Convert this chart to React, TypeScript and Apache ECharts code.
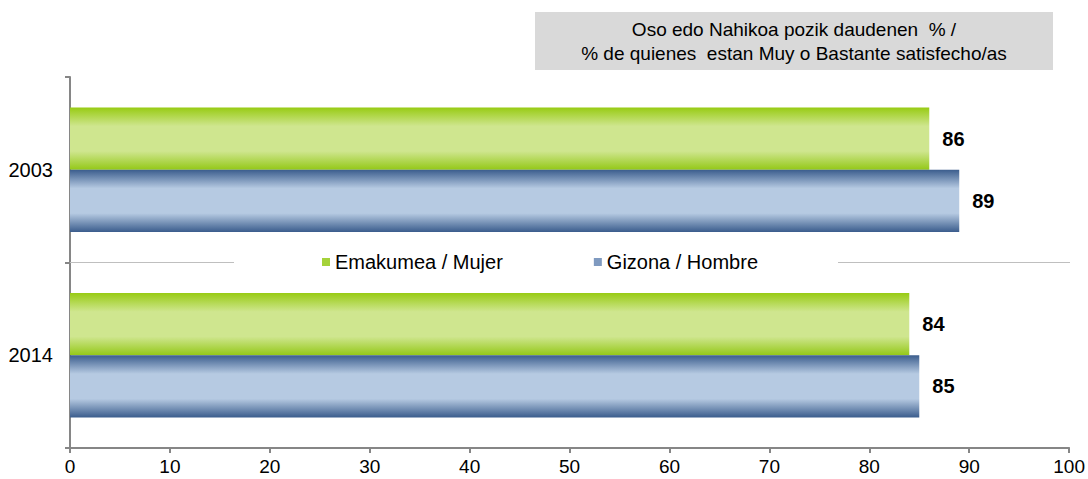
import React, { useEffect, useRef } from "react";
import * as echarts from "echarts";

const years = ["2003", "2014"];
const mujer = [86, 84];
const hombre = [89, 85];
const xTicks = [0, 100, 10];
const titleLines = ["Oso edo Nahikoa pozik daudenen  % /", "% de quienes  estan Muy o Bastante satisfecho/as"];
const seriesNames = ["Emakumea / Mujer", "Gizona / Hombre"];

const FONT = "Liberation Sans, Arial, sans-serif";

export default function App() {
  const ref = useRef<HTMLDivElement>(null);
  useEffect(() => {
    const chart = echarts.init(ref.current!, null, { renderer: "svg" });
    const green = new echarts.graphic.LinearGradient(0, 0, 0, 1, [
      { offset: 0, color: "#98cb14" },
      { offset: 0.3, color: "#cfe68f" },
      { offset: 0.7, color: "#cfe68f" },
      { offset: 1, color: "#94c818" },
    ]);
    const blue = new echarts.graphic.LinearGradient(0, 0, 0, 1, [
      { offset: 0, color: "#3b5d8d" },
      { offset: 0.3, color: "#b6cae2" },
      { offset: 0.7, color: "#b6cae2" },
      { offset: 1, color: "#3b5d8d" },
    ]);
    const label = {
      show: true,
      position: "right" as const,
      distance: 13,
      color: "#000",
      fontWeight: "bold" as const,
      fontSize: 20,
      fontFamily: FONT,
    };
    chart.setOption({
      animation: false,
      grid: { left: 70, right: 18, top: 77, bottom: 31, containLabel: false },
      graphic: [
        {
          type: "line",
          shape: { x1: 70, y1: 262.5, x2: 1070, y2: 262.5 },
          style: { stroke: "#bfbfbf", lineWidth: 1 },
          z: 1,
        },
        {
          type: "rect",
          shape: { x: 535, y: 12, width: 518, height: 58 },
          style: { fill: "#d9d9d9" },
          z: 10,
        },
        {
          type: "text",
          x: 794,
          y: 41,
          style: {
            text: titleLines.join("\n"),
            fill: "#000",
            font: `19px ${FONT}`,
            align: "center",
            verticalAlign: "middle",
            lineHeight: 24,
          },
          z: 11,
        },
      ],
      legend: {
        data: [
          { name: seriesNames[0], itemStyle: { color: "#a5d23a" } },
          { name: seriesNames[1], itemStyle: { color: "#7f9ac0" } },
        ],
        top: 250,
        left: 234,
        padding: [2, 80, 2, 88],
        backgroundColor: "#fff",
        itemWidth: 8,
        itemHeight: 8,
        itemGap: 91,
        icon: "rect",
        textStyle: { color: "#000", fontSize: 20, fontFamily: FONT, padding: [0, 0, 0, 0] },
        z: 5,
      },
      xAxis: {
        type: "value",
        min: xTicks[0],
        max: xTicks[1],
        interval: xTicks[2],
        axisLine: { show: true, lineStyle: { color: "#868686", width: 2 } },
        axisTick: { show: true, length: 5, lineStyle: { color: "#868686", width: 2 } },
        splitLine: { show: false },
        axisLabel: { color: "#000", fontSize: 19, fontFamily: FONT, margin: 9 },
      },
      yAxis: {
        type: "category",
        data: years,
        inverse: true,
        axisLine: { show: true, lineStyle: { color: "#868686", width: 2 } },
        axisTick: { show: true, length: 5, lineStyle: { color: "#868686", width: 2 } },
        splitLine: { show: false },
        axisLabel: { color: "#000", fontSize: 20, fontFamily: FONT, margin: 17 },
      },
      series: [
        {
          name: seriesNames[0],
          type: "bar",
          data: mujer,
          barCategoryGap: "33%",
          barGap: "0%",
          itemStyle: { color: green },
          label,
        },
        {
          name: seriesNames[1],
          type: "bar",
          data: hombre,
          barCategoryGap: "33%",
          barGap: "0%",
          itemStyle: { color: blue },
          label,
        },
      ],
    });
    return () => chart.dispose();
  }, []);
  return <div ref={ref} style={{ width: 1088, height: 479, position: "absolute", left: 0, top: 0 }} />;
}
